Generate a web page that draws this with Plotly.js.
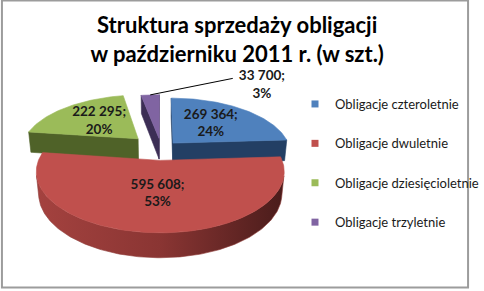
<!DOCTYPE html>
<html><head><meta charset="utf-8">
<script src="https://cdn.plot.ly/plotly-3.0.1.min.js"></script>
<style>html,body{margin:0;padding:0;background:#fff}#chart{width:484px;height:291px}</style>
</head><body><div id="chart"></div>
<script>
// ---- data ----
const categories = ['Obligacje czteroletnie', 'Obligacje dwuletnie', 'Obligacje dziesięcioletnie', 'Obligacje trzyletnie'];
const values = [269364, 595608, 222295, 33700];
const titleText = 'Struktura sprzedaży obligacji<br>w październiku 2011 r. (w szt.)';

// ---- styles ----
const topColors = ['#4F81BD', '#C0504D', '#9BBB59', '#8064A2'];
const sideColors = ['#233F64', '#8E3A38', '#4F6228', '#3C2E55'];
const sideGrad = [
  ['#2A4A74', '#1B3250'],
  ['#A4423F', '#8A3533', '#4A1C1B'],
  ['#5A6F2C', '#3E4E1E'],
  ['#4A3A66', '#2E2342']
];
const explodeBy = [0.15, 0.2, 0.28, 0.2];

// ---- 3D projection settings (pixel space) ----
const cx = 166, cy = 149, F = 605, D = 5;
const alpha = 27 * Math.PI / 180, sinA = Math.sin(alpha), cosA = Math.cos(alpha);
const thick = 0.2, labelR = 0.52;
const cam = [0, -D * cosA, D * sinA];

function proj(u, v, z) {
  const W = D + v * cosA - z * sinA;
  return [cx + F * u / W, cy - F * (v * sinA + z * cosA) / W];
}

const total = values.reduce((a, b) => a + b, 0);
const fmt = v => String(v).replace(/\B(?=(\d{3})+(?!\d))/g, ' ');

// slices
let acc = 0;
const slices = values.map((v, i) => {
  const a0 = acc / total * 2 * Math.PI;
  acc += v;
  const a1 = acc / total * 2 * Math.PI;
  const mid = (a0 + a1) / 2;
  const e = explodeBy[i];
  return { i, a0, a1, mid, ou: e * Math.sin(mid), ov: e * Math.cos(mid) };
});

const traces = [];
function poly(pts, color, grad) {
  const t = {
    type: 'scatter', mode: 'lines', fill: 'toself',
    x: pts.map(p => p[0]), y: pts.map(p => p[1]),
    line: { width: 0.6, color: color }, fillcolor: color,
    hoverinfo: 'skip', showlegend: false
  };
  if (grad) {
    t.fillgradient = { type: 'horizontal', colorscale: grad.map((c, k) => [k / (grad.length - 1), c]) };
  }
  traces.push(t);
}

const order = slices.slice().sort((a, b) => b.ov - a.ov);
const STEP = Math.PI / 180;
order.forEach(s => {
  const { i, a0, a1, ou, ov } = s;
  const n = Math.max(2, Math.ceil((a1 - a0) / STEP));
  const angs = [];
  for (let k = 0; k <= n; k++) angs.push(a0 + (a1 - a0) * k / n);
  const rim = (th, z) => proj(ou + Math.sin(th), ov + Math.cos(th), z);
  const apex = z => proj(ou, ov, z);
  // radial walls
  const walls = [[a0, [-Math.cos(a0), Math.sin(a0)]], [a1, [Math.cos(a1), -Math.sin(a1)]]];
  walls.forEach(([a, nrm]) => {
    const P = [ou + 0.5 * Math.sin(a), ov + 0.5 * Math.cos(a), -thick / 2];
    const dot = nrm[0] * (cam[0] - P[0]) + nrm[1] * (cam[1] - P[1]);
    if (dot > 0) {
      poly([apex(0), rim(a, 0), rim(a, -thick), apex(-thick), apex(0)], sideColors[i]);
    }
  });
  // outer arc wall (visible runs)
  const vis = th => (-ou * Math.sin(th) - 1 - Math.cos(th) * (D * cosA + ov)) > 0;
  let run = [];
  const flush = () => {
    if (run.length > 1) {
      const pts = run.map(th => rim(th, 0)).concat(run.slice().reverse().map(th => rim(th, -thick)));
      pts.push(pts[0]);
      poly(pts, sideColors[i], sideGrad[i]);
    }
    run = [];
  };
  angs.forEach(th => { if (vis(th)) run.push(th); else flush(); });
  flush();
  // top face
  const top = [apex(0)].concat(angs.map(th => rim(th, 0)));
  top.push(apex(0));
  poly(top, topColors[i]);
});

// data labels
const labelFont = { family: 'Lato', size: 13.5, weight: 'bold', color: '#1a1a1a' };
const insideX = [], insideY = [], insideT = [];
slices.forEach(s => {
  const pct = Math.round(values[s.i] / total * 100);
  const txt = fmt(values[s.i]) + ';<br>' + pct + '%';
  if (pct >= 5) {
    const p = proj(s.ou + labelR * Math.sin(s.mid), s.ov + labelR * Math.cos(s.mid), 0);
    insideX.push(p[0]); insideY.push(p[1]); insideT.push(txt);
  } else {
    const r0 = proj(s.ou + Math.sin(s.mid), s.ov + Math.cos(s.mid), 0);
    const end = [r0[0] + 85, r0[1] - 16.5];
    traces.push({ type: 'scatter', mode: 'lines', x: [r0[0], end[0]], y: [r0[1], end[1]],
      line: { color: '#000', width: 1 }, hoverinfo: 'skip', showlegend: false });
    traces.push({ type: 'scatter', mode: 'text', x: [end[0] + 30], y: [end[1] + 7.5], text: [txt],
      textposition: 'middle center', textfont: labelFont,
      hoverinfo: 'skip', showlegend: false });
  }
});
traces.push({ type: 'scatter', mode: 'text', x: insideX, y: insideY, text: insideT,
  textposition: 'middle center', textfont: labelFont,
  hoverinfo: 'skip', showlegend: false });

// legend entries
categories.forEach((c, i) => {
  traces.push({ type: 'scatter', mode: 'markers', x: [null], y: [null], name: c,
    legendgroup: 'g' + i, marker: { symbol: 'square', size: 7, color: topColors[i] }, showlegend: true });
});

const layout = {
  width: 484, height: 291,
  margin: { l: 0, r: 0, t: 0, b: 0 },
  paper_bgcolor: '#ffffff', plot_bgcolor: 'rgba(0,0,0,0)',
  xaxis: { range: [0, 484], visible: false, fixedrange: true },
  yaxis: { range: [291, 0], visible: false, fixedrange: true },
  showlegend: true,
  legend: { x: 304 / 484, xanchor: 'left', y: 1 - 89 / 291, yanchor: 'top',
    font: { family: 'Lato', size: 13, color: '#1a1a1a' }, tracegroupgap: 19.5,
    traceorder: 'grouped', itemwidth: 30, bgcolor: 'rgba(0,0,0,0)' },
  title: { text: titleText, x: 0.49, xanchor: 'center', y: 1 - 33 / 291, yanchor: 'middle',
    font: { family: 'Lato', size: 22, weight: 'bold', color: '#000' } },
  shapes: [{ type: 'rect', xref: 'x', yref: 'y', x0: 2, x1: 482, y0: 0.5, y1: 287.5,
    line: { color: '#9c9c9c', width: 2 }, fillcolor: 'rgba(0,0,0,0)', layer: 'above' }]
};

Plotly.newPlot('chart', traces, layout, { staticPlot: true, displayModeBar: false });
</script></body></html>
